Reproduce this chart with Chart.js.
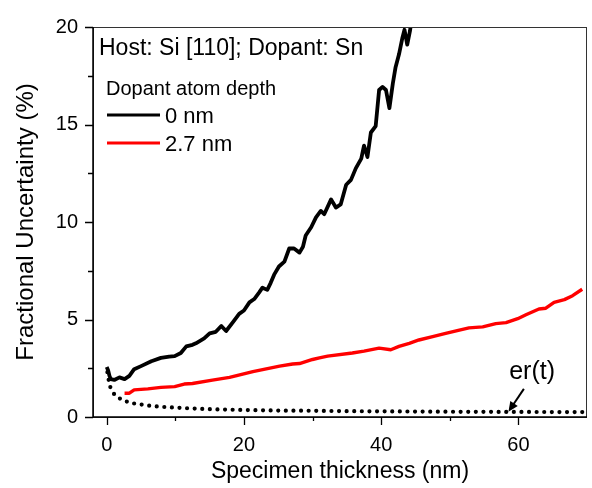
<!DOCTYPE html>
<html><head><meta charset="utf-8">
<script src="https://cdn.jsdelivr.net/npm/chart.js@4.4.0/dist/chart.umd.min.js"></script>
<style>html,body{margin:0;padding:0;background:#fff}</style>
</head><body>
<canvas id="c" width="592" height="488" style="display:block;width:592px;height:488px"></canvas>
<script>
// ---- data ----
const thickness0 = [0, 0.2, 0.4, 0.6, 1.1, 1.85, 2.6, 3.3, 4.0, 5.0, 6.5, 7.9, 9.1, 9.9, 10.8, 11.6, 12.5, 13.0, 14.2, 15.0, 15.9, 16.7, 17.4, 18.4, 19.3, 20.0, 20.8, 21.5, 22.2, 22.7, 23.4, 23.9, 24.4, 25.1, 25.9, 26.6, 27.3, 28.1, 28.6, 29.0, 29.8, 30.5, 31.2, 31.7, 32.7, 33.4, 34.1, 34.9, 35.6, 36.3, 37.1, 37.5, 38.0, 38.5, 39.2, 39.7, 40.2, 40.7, 41.2, 41.7, 42.1, 42.6, 43.1, 43.4, 43.8, 44.2, 44.6];
const uncertainty0 = [2.56, 2.4, 2.11, 1.94, 1.9, 2.03, 1.94, 2.11, 2.45, 2.61, 2.86, 3.03, 3.1, 3.12, 3.28, 3.62, 3.7, 3.78, 4.03, 4.29, 4.37, 4.67, 4.41, 4.87, 5.29, 5.46, 5.88, 6.05, 6.38, 6.63, 6.52, 6.88, 7.3, 7.72, 7.97, 8.64, 8.64, 8.43, 8.73, 9.31, 9.73, 10.24, 10.57, 10.4, 11.16, 10.74, 10.9, 11.91, 12.16, 12.75, 13.25, 13.92, 13.33, 14.59, 14.92, 16.77, 16.93, 16.77, 15.84, 17.1, 17.94, 18.6, 19.45, 19.86, 19.1, 19.8, 20.8];

const thickness27 = [2.6, 3.3, 4.0, 6.0, 7.9, 9.9, 11.3, 12.5, 15.4, 17.9, 21.3, 25.2, 27.1, 28.1, 30.0, 31.0, 32.2, 35.8, 37.5, 39.7, 41.4, 42.6, 44.1, 45.5, 47.5, 49.4, 51.4, 52.8, 54.8, 56.7, 58.2, 59.9, 61.1, 63.0, 64.0, 65.2, 66.7, 67.9, 69.3];
const uncertainty27 = [1.22, 1.22, 1.39, 1.44, 1.52, 1.56, 1.69, 1.72, 1.89, 2.03, 2.33, 2.61, 2.72, 2.74, 2.95, 3.03, 3.12, 3.28, 3.38, 3.53, 3.45, 3.62, 3.78, 3.95, 4.12, 4.29, 4.46, 4.57, 4.62, 4.79, 4.84, 5.04, 5.24, 5.54, 5.58, 5.88, 6.02, 6.22, 6.55];

const thicknessEr = [0.1, 0.4, 0.9, 1.6, 2.5, 3.6, 4.8, 7, 10, 12.3, 15, 20, 25, 30, 35, 40, 50, 60, 70];
const uncertaintyEr = [2.3, 1.69, 1.27, 1.02, 0.85, 0.72, 0.65, 0.55, 0.48, 0.44, 0.40, 0.36, 0.33, 0.32, 0.30, 0.29, 0.27, 0.26, 0.25];

const xMajorTicks = [0, 20, 40, 60];
const xMinorTicks = [10, 30, 50];
const yMajorTicks = [0, 5, 10, 15, 20];
const yMinorTicks = [2.5, 7.5, 12.5, 17.5];

const seriesLabels = ['0 nm', '2.7 nm', 'er(t)'];
const legendTitle = 'Dopant atom depth';
const hostLabel = 'Host: Si [110]; Dopant: Sn';
const xTitle = 'Specimen thickness (nm)';
const yTitle = 'Fractional Uncertainty (%)';
// annotation anchor points in data units
const erTextAt = [62.0, 1.96];
const erArrowFrom = [60.8, 1.44];
const erArrowTo = [58.55, 0.27];

const FONT = '"Liberation Sans", Arial, Helvetica, sans-serif';
const pts = (xs, ys) => xs.map((x, i) => ({x, y: ys[i]}));

const decor = {
  id: 'decor',
  afterDatasetsDraw(chart) {
    const {ctx, chartArea: a, scales: {x, y}} = chart;
    ctx.save();
    // frame
    ctx.strokeStyle = '#333';
    ctx.lineWidth = 1;
    ctx.strokeRect(a.left + 0.5, a.top + 0.5, a.right - a.left - 1, a.bottom - a.top);
    // axes
    ctx.strokeStyle = '#000';
    ctx.lineWidth = 1.5;
    ctx.beginPath();
    ctx.moveTo(a.left, a.top); ctx.lineTo(a.left, a.bottom); ctx.lineTo(a.right, a.bottom);
    ctx.stroke();
    // ticks
    ctx.lineWidth = 1.3;
    ctx.beginPath();
    xMajorTicks.forEach(v => { const p = Math.round(x.getPixelForValue(v)) + 0.5; ctx.moveTo(p, a.bottom); ctx.lineTo(p, a.bottom + 8); });
    xMinorTicks.forEach(v => { const p = Math.round(x.getPixelForValue(v)) + 0.5; ctx.moveTo(p, a.bottom); ctx.lineTo(p, a.bottom + 4); });
    yMajorTicks.forEach(v => { const p = Math.round(y.getPixelForValue(v)) + 0.5; ctx.moveTo(a.left, p); ctx.lineTo(a.left - 8, p); });
    yMinorTicks.forEach(v => { const p = Math.round(y.getPixelForValue(v)) + 0.5; ctx.moveTo(a.left, p); ctx.lineTo(a.left - 5, p); });
    ctx.stroke();

    // host label
    ctx.fillStyle = '#000';
    ctx.textBaseline = 'alphabetic';
    ctx.textAlign = 'left';
    ctx.font = '23px ' + FONT;
    ctx.fillText(hostLabel, a.left + 6, a.top + 28);
    // legend
    ctx.font = '20px ' + FONT;
    ctx.fillText(legendTitle, a.left + 13, a.top + 68);
    const ds = chart.data.datasets;
    [0, 1].forEach((i, k) => {
      const ly = a.top + 88 + k * 28;
      ctx.strokeStyle = ds[i].borderColor;
      ctx.lineWidth = 3;
      ctx.beginPath(); ctx.moveTo(a.left + 14, ly); ctx.lineTo(a.left + 67, ly); ctx.stroke();
      ctx.font = '22px ' + FONT;
      ctx.fillText(ds[i].label, a.left + 72, ly + 8);
    });
    // er(t) annotation
    ctx.font = '25px ' + FONT;
    ctx.textAlign = 'center';
    ctx.fillText(seriesLabels[2], x.getPixelForValue(erTextAt[0]), y.getPixelForValue(erTextAt[1]));
    const x0 = x.getPixelForValue(erArrowFrom[0]), y0 = y.getPixelForValue(erArrowFrom[1]);
    const x1 = x.getPixelForValue(erArrowTo[0]), y1 = y.getPixelForValue(erArrowTo[1]);
    const ang = Math.atan2(y1 - y0, x1 - x0);
    ctx.strokeStyle = '#000';
    ctx.lineWidth = 2;
    ctx.beginPath(); ctx.moveTo(x0, y0);
    ctx.lineTo(x1 - 6 * Math.cos(ang), y1 - 6 * Math.sin(ang)); ctx.stroke();
    ctx.beginPath();
    ctx.moveTo(x1, y1);
    ctx.lineTo(x1 - 10 * Math.cos(ang) + 4.5 * Math.sin(ang), y1 - 10 * Math.sin(ang) - 4.5 * Math.cos(ang));
    ctx.lineTo(x1 - 10 * Math.cos(ang) - 4.5 * Math.sin(ang), y1 - 10 * Math.sin(ang) + 4.5 * Math.cos(ang));
    ctx.closePath(); ctx.fillStyle = '#000'; ctx.fill();
    ctx.restore();
  }
};

new Chart(document.getElementById('c'), {
  type: 'scatter',
  data: {
    datasets: [
      {label: seriesLabels[0], data: pts(thickness0, uncertainty0), showLine: true, borderColor: '#000000', borderWidth: 3.8, pointRadius: 0, borderJoinStyle: 'round', clip: 0},
      {label: seriesLabels[1], data: pts(thickness27, uncertainty27), showLine: true, borderColor: '#ff0000', borderWidth: 3.4, pointRadius: 0, borderJoinStyle: 'round'},
      {label: seriesLabels[2], data: pts(thicknessEr, uncertaintyEr), showLine: true, borderColor: '#000000', borderWidth: 4.2, pointRadius: 0, borderDash: [0, 7.6], borderCapStyle: 'round', cubicInterpolationMode: 'monotone'}
    ]
  },
  options: {
    responsive: false,
    animation: false,
    events: [],
    layout: {padding: {top: 19, right: 5, left: 0, bottom: 0}},
    plugins: {legend: {display: false}, tooltip: {enabled: false}},
    scales: {
      x: {
        type: 'linear', min: -2, max: 70,
        afterBuildTicks: s => { s.ticks = xMajorTicks.map(v => ({value: v})); },
        grid: {display: false, drawTicks: false},
        border: {display: false},
        ticks: {padding: 16, color: '#000', font: {family: FONT, size: 20}, maxRotation: 0},
        title: {display: true, text: xTitle, color: '#000', font: {family: FONT, size: 23}, padding: {top: 0, bottom: 3}},
        afterFit: s => { s.height = 71; }
      },
      y: {
        type: 'linear', min: 0, max: 20,
        afterBuildTicks: s => { s.ticks = yMajorTicks.map(v => ({value: v})); },
        grid: {display: false, drawTicks: false},
        border: {display: false},
        ticks: {padding: 15, color: '#000', font: {family: FONT, size: 20}},
        title: {display: true, text: yTitle, color: '#000', font: {family: FONT, size: 24}, padding: {top: 12, bottom: 0}},
        afterFit: s => { s.width = 93; }
      }
    }
  },
  plugins: [decor]
});
</script>
</body></html>
